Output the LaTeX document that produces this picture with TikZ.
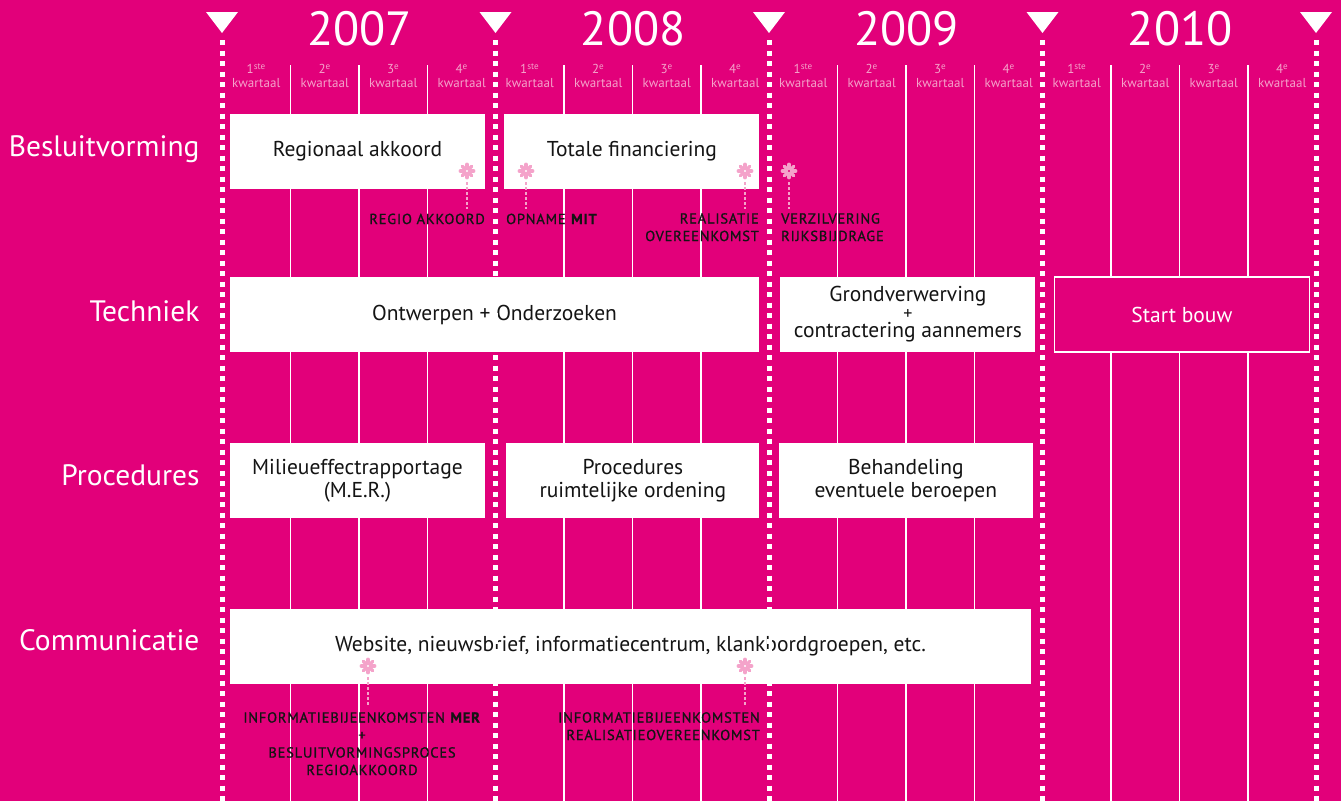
\documentclass[tikz,border=0pt]{standalone}
\usepackage{fontspec}
\setmainfont{PT Sans}
\newfontfamily\spatie[LetterSpace=5.5, FakeBold=1]{PT Sans}
\usetikzlibrary{positioning}

\definecolor{magentabg}{HTML}{E2007A}
\definecolor{rose}{HTML}{F4A3CA}
\definecolor{inkt}{HTML}{141414}

\tikzset{
  blok/.style={fill=white, text=inkt, inner sep=0pt, minimum width=255pt, minimum height=75pt,
    align=center, font=\fontsize{21.5}{23}\selectfont},
  rij/.style={anchor=base east, text=white, font=\fontsize{29.5}{32}\selectfont},
  jaar/.style={text=white, font=\fontsize{48}{48}\selectfont},
  kwartaal/.style={text=rose, align=center, inner sep=0pt, font=\fontsize{13}{14}\selectfont},
  mijlpaal/.style={text=inkt, inner sep=0pt, font=\spatie\fontsize{14.5}{17.5}\selectfont},
  jaarlijn/.style={white, line width=5pt, dash pattern=on 5pt off 5.5pt},
  kwartlijn/.style={white, line width=1.5pt},
  stippel/.style={rose, line width=2.5pt, dash pattern=on 2.5pt off 2.5pt},
  bloem/.pic={
    \foreach \a in {0,45,90,135}
      \draw[rose, line width=3.2pt, line cap=round] (\a:-6.8pt) -- (\a:-2.4pt) (\a:2.4pt) -- (\a:6.8pt);
  }
}

\begin{document}
\begin{tikzpicture}[x=1pt, y=-1pt]
  \fill[magentabg] (0,0) rectangle (1341,801);
  \useasboundingbox (0,0) rectangle (1341,801);

  % kwartalen
  \foreach \j in {0,...,3}
    \foreach \k in {1,2,3}
      \draw[kwartlijn] ({222+273.5*\j+68.5*\k},65) -- ++(0,736);

  \foreach \jaar [count=\j from 0] in {2007,2008,2009,2010} {
    \node[jaar] (j\jaar) at ({359.75+273.5*\j},29) {\jaar};
    \foreach \q/\s in {1/ste,2/e,3/e,4/e}
      \node[kwartaal] (k\jaar\q) at ({222+273.5*\j+68.5*\q-34.25},76) {\q\textsuperscript{\s}\\kwartaal};
  }

  % rijen
  \node[rij] (besluit) at (203,156) {Besluitvorming};
  \node[rij] (techniek) at (203,321) {Techniek};
  \node[rij] (procedures) at (203,485) {Procedures};
  \node[rij] (communicatie) at (203,650) {Communicatie};

  % besluitvorming
  \node[blok] (regio) at (357.5,151.5) {Regionaal akkoord};
  \node[blok, right=19pt of regio] (financiering) {Totale financiering};

  % techniek
  \node[blok, minimum width=529pt] (ontwerp) at (494.5,314.5) {Ontwerpen + Onderzoeken};
  \node[blok, right=21pt of ontwerp, font=\fontsize{21.5}{18}\selectfont] (grond)
    {Grondverwerving\\{\fontsize{18}{18}\selectfont +}\\contractering aannemers};
  \node[blok, right=18pt of grond, fill=magentabg, draw=white, line width=1.5pt, text=white] (bouw) {Start bouw};

  % procedures
  \node[blok] (mer) at (357.5,480.5) {Milieueffectrapportage\\(M.E.R.)};
  \node[blok, minimum width=253pt, right=21pt of mer] (ro) {Procedures\\ruimtelijke ordening};
  \node[blok, minimum width=254pt, right=19pt of ro] (beroep) {Behandeling\\eventuele beroepen};

  % communicatie
  \node[blok, minimum width=801pt] (website) at (630.5,646.5)
    {Website, nieuwsbrief, informatiecentrum, klankbordgroepen, etc.};

  % mijlpalen
  \coordinate (m1) at (467,171);
  \coordinate (m2) at (526,171);
  \coordinate (m3) at (745,171);
  \coordinate (m4) at (789,171);
  \coordinate (m5) at (368,666);
  \coordinate (m6) at (745,666);
  \foreach \m in {m1,m2,m3,m4} {
    \pic at (\m) {bloem};
    \draw[stippel] (\m) ++(0,11) -- ++(0,27);
  }
  \foreach \m in {m5,m6} {
    \pic at (\m) {bloem};
    \draw[stippel] (\m) ++(0,11) -- ++(0,28);
  }
  \node[mijlpaal, anchor=base east] (l1) at (485,224) {REGIO AKKOORD};
  \node[mijlpaal, anchor=base west] (l2) at (506,224) {OPNAME \textbf{MIT}};
  \node[mijlpaal, anchor=north east, align=right] (l3) at (759,213) {REALISATIE\\OVEREENKOMST};
  \node[mijlpaal, anchor=north west, align=left] (l4) at (781,213) {VERZILVERING\\RIJKSBIJDRAGE};
  \node[mijlpaal, anchor=north, align=center] (l5) at (362,712)
    {INFORMATIEBIJEENKOMSTEN \textbf{MER}\\+\\BESLUITVORMINGSPROCES\\REGIOAKKOORD};
  \node[mijlpaal, anchor=north east, align=right] (l6) at (760,712)
    {INFORMATIEBIJEENKOMSTEN\\REALISATIEOVEREENKOMST};

  % jaargrenzen
  \foreach \j in {0,...,4} {
    \draw[jaarlijn] ({222+273.5*\j},40) -- ++(0,761);
    \fill[white] ({222+273.5*\j-16},12) -- ++(32,0) -- ++(-16,21) -- cycle;
  }
\end{tikzpicture}
\end{document}
